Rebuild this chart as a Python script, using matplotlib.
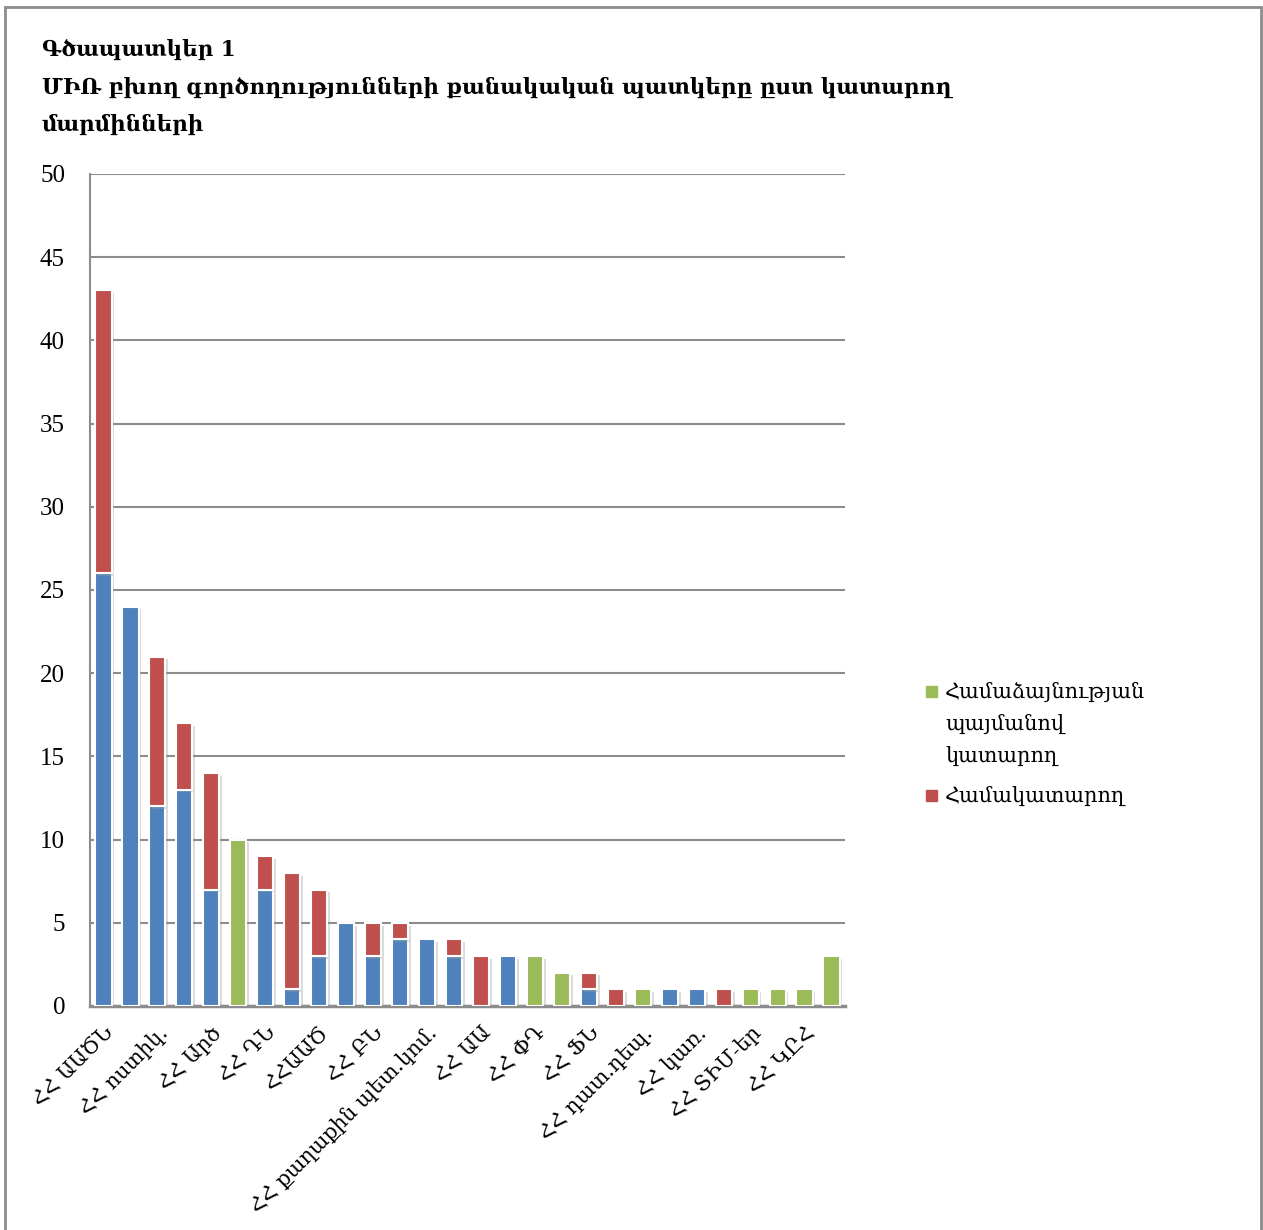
import matplotlib
matplotlib.use("Agg")
import matplotlib.pyplot as plt
import matplotlib.patheffects as pe
from matplotlib.patches import Rectangle
import numpy as np

plt.rcParams['font.family'] = ['DejaVu Serif', 'DejaVu Sans']

categories = [
    "ՀՀ ԱԱԾՆ", "", "ՀՀ ոստիկ.", "", "ՀՀ Արծ", "", "ՀՀ ԴՆ", "",
    "ՀՀԱԱԾ", "", "ՀՀ ԲՆ", "", "ՀՀ քաղաքին պետ.կոմ.", "", "ՀՀ ԱԱ", "",
    "ՀՀ ՓԴ", "", "ՀՀ ՖՆ", "", "ՀՀ դատ.դեպ.", "", "ՀՀ կառ.", "",
    "ՀՀ ՏԻՄ-եր", "", "ՀՀ ԿԸՀ", "",
]
executor = [26, 24, 12, 13, 7, 0, 7, 1, 3, 5, 3, 4, 4, 3, 0, 3, 0, 0, 1, 0, 0, 1, 1, 0, 0, 0, 0, 0]
co_executor = [17, 0, 9, 4, 7, 0, 2, 7, 4, 0, 2, 1, 0, 1, 3, 0, 0, 0, 1, 1, 0, 0, 0, 1, 0, 0, 0, 0]
agreement = [0, 0, 0, 0, 0, 10, 0, 0, 0, 0, 0, 0, 0, 0, 0, 0, 3, 2, 0, 0, 1, 0, 0, 0, 1, 1, 1, 3]

title_lines = ["Գծապատկեր 1",
               "ՄԻՌ բխող գործողությունների քանակական պատկերը ըստ կատարող",
               "մարմինների"]
legend_labels = ["Համաձայնության\nպայմանով\nկատարող", "Համակատարող"]

blue = "#4F81BD"
red = "#C0504D"
green = "#9BBB59"
gridc = "#8C8C8C"

W, H = 1263, 1230
fig = plt.figure(figsize=(W / 100, H / 100), dpi=100)

# outer frame
fig.patches.append(Rectangle((5 / W, 1 - 1245 / H), (1261 - 5) / W, (1245 - 7) / H,
                             transform=fig.transFigure, fill=False,
                             edgecolor="#8C8C8C", linewidth=2.0))

ax = fig.add_axes([90 / W, 1 - 1006 / H, (845 - 90) / W, (1006 - 174) / H])

x = np.arange(len(categories))
ex = np.array(executor)
co = np.array(co_executor)
ag = np.array(agreement)

shadow = [pe.SimplePatchShadow(offset=(2, -2), shadow_rgbFace="#9a9a9a", alpha=0.35), pe.Normal()]
bw = 0.6
b1 = ax.bar(x, ex, bw, color=blue, edgecolor="white", linewidth=1.5, zorder=3)
b2 = ax.bar(x, co, bw, bottom=ex, color=red, edgecolor="white", linewidth=1.5, zorder=3)
b3 = ax.bar(x, ag, bw, bottom=ex + co, color=green, edgecolor="white", linewidth=1.5, zorder=3)
for bars in (b1, b2, b3):
    for p in bars:
        if p.get_height() > 0:
            p.set_path_effects(shadow)
        else:
            p.set_visible(False)

ax.set_xlim(-0.5, len(categories) - 0.5)
ax.set_ylim(0, 50)
ax.set_yticks(np.arange(0, 51, 5))
ax.yaxis.grid(True, color=gridc, linewidth=1.5, zorder=0)
ax.set_axisbelow(True)
for s in ("top", "right"):
    ax.spines[s].set_visible(False)
for s in ("left", "bottom"):
    ax.spines[s].set_color(gridc)
    ax.spines[s].set_linewidth(1.5)
ax.spines["bottom"].set_linewidth(2.5)
ax.tick_params(axis="y", length=0, pad=18, labelsize=18)
ax.tick_params(axis="x", length=0, pad=12)
for lab in ax.get_yticklabels():
    lab.set_family(['Liberation Serif', 'DejaVu Serif'])

ax.set_xticks(x)
ax.set_xticklabels(categories, rotation=45, ha="right", va="top",
                   rotation_mode="anchor", fontsize=15)

# title
for i, t in enumerate(title_lines):
    fig.text(42 / W, 1 - (56 + i * 37.5) / H, t, fontsize=15.5, fontweight="bold",
             ha="left", va="baseline")

# legend (handle aligned with first text line, as in the reference)
legend_colors = [green, red]
legend_tops = [691, 795]
for c, lab, yc in zip(legend_colors, legend_labels, legend_tops):
    fig.patches.append(Rectangle((926 / W, 1 - (yc + 5.5) / H), 11 / W, 11 / H,
                                 transform=fig.transFigure, facecolor=c, edgecolor=c))
    fig.text(945 / W, 1 - (yc - 9) / H, lab, fontsize=15, ha="left", va="top",
             linespacing=1.75)

fig.savefig("out.png", dpi=100)
